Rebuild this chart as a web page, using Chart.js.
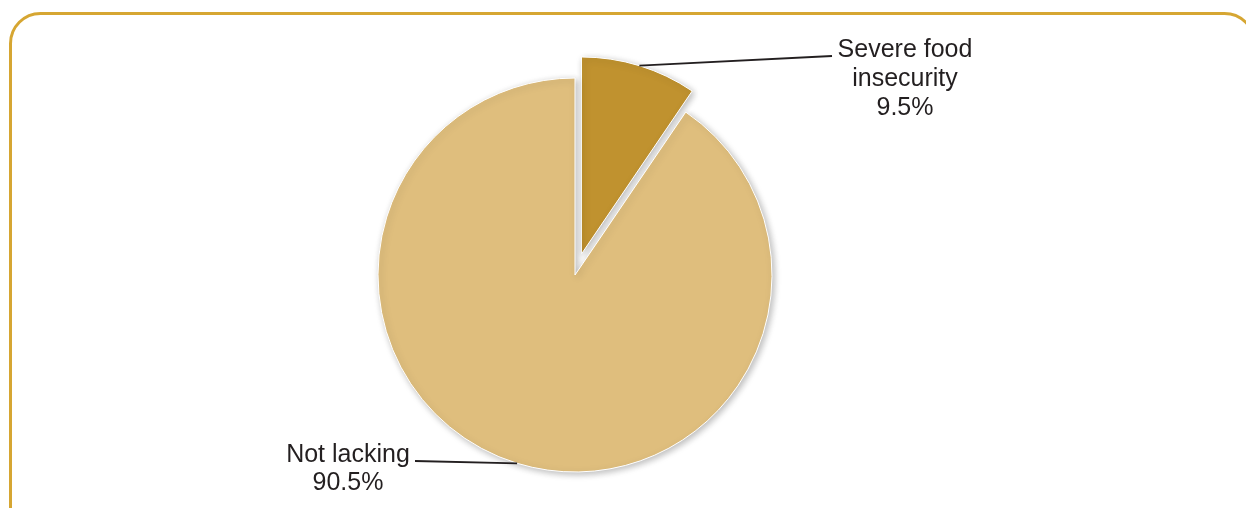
<!DOCTYPE html>
<html>
<head>
<meta charset="utf-8">
<script src="https://cdn.jsdelivr.net/npm/chart.js@4/dist/chart.umd.min.js"></script>
<style>
  html, body { margin: 0; padding: 0; background: #ffffff; }
  #wrap { position: relative; width: 1246px; height: 508px; }
  canvas { display: block; }
</style>
</head>
<body>
<div id="wrap"><canvas id="c" width="1246" height="508"></canvas></div>
<script>
// ---- data ----
const categories = ['Severe food insecurity', 'Not lacking'];
const labelLines = [['Severe food', 'insecurity'], ['Not lacking']];
const values = [9.5, 90.5];
const valueLabels = ['9.5%', '90.5%'];

// ---- style ----
const sliceColors = ['#C0922F', '#DFBE7D'];
const explode = [22, 0];   // pixels each slice is pulled out along its mid angle
const frameColor = '#D6A632';
const textColor = '#231F20';
const fontSpec = '25px "Liberation Sans", Arial, sans-serif';
// label text placement: leader end point, text center x, first baseline
const labelPlacement = [
  { endX: 832, endY: 56, textX: 905, baseY: 57, lineH: 29 },
  { endX: 415, endY: 461, textX: 348, baseY: 462, lineH: 28 }
];

const framePlugin = {
  id: 'frame',
  beforeDraw(chart) {
    const ctx = chart.ctx;
    ctx.save();
    ctx.strokeStyle = frameColor;
    ctx.lineWidth = 3;
    ctx.beginPath();
    ctx.roundRect(10.5, 13.5, 1244, 540, 30);
    ctx.stroke();
    ctx.restore();
  }
};

// pulls slices out by a pure translation (no radius change)
const explodePlugin = {
  id: 'explode',
  afterDatasetUpdate(chart, args) {
    const meta = chart.getDatasetMeta(args.index);
    meta.data.forEach((arc, i) => {
      const d = explode[i] || 0;
      if (!d || arc._exploded) return;
      const base = Object.getPrototypeOf(arc).draw;
      arc.draw = function (ctx, area) {
        const mid = (this.startAngle + this.endAngle) / 2;
        ctx.save();
        ctx.translate(Math.cos(mid) * d, Math.sin(mid) * d);
        base.call(this, ctx, area);
        ctx.restore();
      };
      arc._exploded = true;
    });
  }
};

const shadowPlugin = {
  id: 'shadow',
  beforeDatasetsDraw(chart) {
    const ctx = chart.ctx;
    ctx.save();
    ctx.shadowColor = 'rgba(0,0,0,0.28)';
    ctx.shadowBlur = 7;
    ctx.shadowOffsetX = 2;
    ctx.shadowOffsetY = 2;
  },
  afterDatasetsDraw(chart) {
    chart.ctx.restore();
  }
};

const labelPlugin = {
  id: 'pieLabels',
  afterDatasetsDraw(chart) {
    const ctx = chart.ctx;
    const meta = chart.getDatasetMeta(0);
    meta.data.forEach((arc, i) => {
      const p = arc.getProps(['x', 'y', 'startAngle', 'endAngle', 'outerRadius'], true);
      const mid = (p.startAngle + p.endAngle) / 2;
      const off = explode[i] || 0;
      const cx = p.x + Math.cos(mid) * off;
      const cy = p.y + Math.sin(mid) * off;
      const sx = cx + Math.cos(mid) * p.outerRadius;
      const sy = cy + Math.sin(mid) * p.outerRadius;
      const lp = labelPlacement[i];
      ctx.save();
      ctx.strokeStyle = textColor;
      ctx.lineWidth = 1.8;
      ctx.beginPath();
      ctx.moveTo(sx, sy);
      ctx.lineTo(lp.endX, lp.endY);
      ctx.stroke();
      ctx.fillStyle = textColor;
      ctx.font = fontSpec;
      ctx.textAlign = 'center';
      ctx.textBaseline = 'alphabetic';
      const lines = labelLines[i].concat([valueLabels[i]]);
      lines.forEach((t, k) => ctx.fillText(t, lp.textX, lp.baseY + k * lp.lineH));
      ctx.restore();
    });
  }
};

new Chart(document.getElementById('c'), {
  type: 'pie',
  data: {
    labels: categories,
    datasets: [{
      data: values,
      backgroundColor: sliceColors,
      borderColor: '#ffffff',
      borderWidth: 1,
      radius: 197
    }]
  },
  options: {
    responsive: false,
    animation: false,
    layout: { padding: { left: 0, right: 96, top: 42, bottom: 0 } },
    plugins: {
      legend: { display: false },
      tooltip: { enabled: false }
    }
  },
  plugins: [framePlugin, explodePlugin, shadowPlugin, labelPlugin]
});
</script>
</body>
</html>
